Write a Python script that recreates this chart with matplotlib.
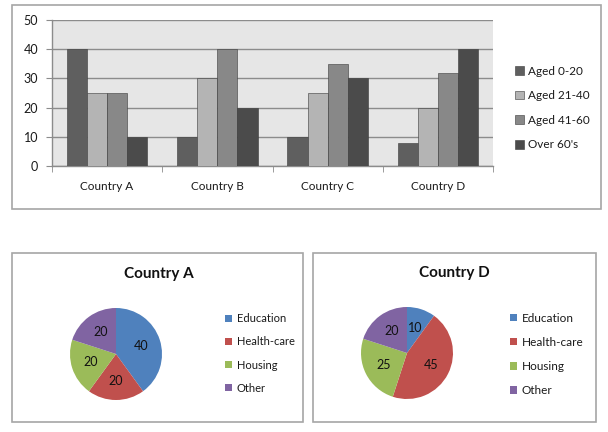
import matplotlib
matplotlib.use("Agg")
import matplotlib.pyplot as plt
from matplotlib.patches import Rectangle
import numpy as np

plt.rcParams['font.family'] = ['Lato', 'DejaVu Sans']

countries = ["Country A", "Country B", "Country C", "Country D"]
age_groups = ["Aged 0-20", "Aged 21-40", "Aged 41-60", "Over 60's"]
aged_0_20 = [40, 10, 10, 8]
aged_21_40 = [25, 30, 25, 20]
aged_41_60 = [25, 40, 35, 32]
over_60 = [10, 20, 30, 40]
bar_colors = ["#5f5f5f", "#b4b4b4", "#888888", "#4b4b4b"]

spend_cats = ["Education", "Health-care", "Housing", "Other"]
pie_a = [40, 20, 20, 20]
pie_d = [10, 45, 25, 20]
pie_colors = ["#4f81bd", "#c0504d", "#9bbb59", "#8064a2"]

W, H = 608, 432
fig = plt.figure(figsize=(W / 100, H / 100), dpi=100)


def fx(px):
    return px / W


def fy(py):
    return 1 - py / H


def frame(x0, y0, x1, y1):
    fig.patches.append(Rectangle((fx(x0), fy(y1)), fx(x1 - x0), (y1 - y0) / H,
                                 transform=fig.transFigure, fill=False,
                                 edgecolor="#a6a6a6", linewidth=1.2))


frame(12, 5, 601, 209)
frame(12, 253, 303, 422)
frame(313, 253, 596, 422)

# ---- Bar chart ----
ax = fig.add_axes([fx(52), fy(166), fx(493 - 52), (166 - 20) / H])
ax.set_facecolor("#e6e6e6")
x = np.arange(len(countries))
bw = 0.182
series = [aged_0_20, aged_21_40, aged_41_60, over_60]
offsets = [-1.5, -0.5, 0.5, 1.5]
handles = []
for s, off, c, lab in zip(series, offsets, bar_colors, age_groups):
    h = ax.bar(x + off * bw, s, width=bw, color=c, edgecolor="#3a3a3a",
               linewidth=0.4, label=lab, zorder=3)
    handles.append(h)
ax.set_xlim(-0.5, 3.5)
ax.set_ylim(0, 50)
ax.set_yticks([0, 10, 20, 30, 40, 50])
ax.yaxis.grid(True, color="#8c8c8c", linewidth=1.0, zorder=1)
ax.set_axisbelow(True)
ax.set_xticks(x)
ax.set_xticklabels(countries)
ax.set_xticks(np.arange(-0.5, 4.0, 1.0), minor=True)
ax.tick_params(axis='x', which='major', length=0, pad=11, labelsize=8.5,
               colors="#1a1a1a")
ax.tick_params(axis='x', which='minor', length=4, color="#8c8c8c", direction='out')
ax.tick_params(axis='y', length=4, color="#8c8c8c", pad=6, labelsize=9,
               colors="#1a1a1a")
for sp in ["top", "right"]:
    ax.spines[sp].set_visible(False)
for sp in ["left", "bottom"]:
    ax.spines[sp].set_color("#8c8c8c")
    ax.spines[sp].set_linewidth(1.0)

fig.legend(handles=handles, labels=age_groups, loc="center left",
           bbox_to_anchor=(fx(510), fy(108)), frameon=False, fontsize=8.5,
           handlelength=0.75, handleheight=0.75, handletextpad=0.4,
           labelspacing=1.15, borderaxespad=0, labelcolor="#1a1a1a")


# ---- Pie charts ----
def pie(cx, cy, r, vals, title, tx, ty, lx, ly, lspacing, lfs):
    pax = fig.add_axes([fx(cx - r), fy(cy + r), fx(2 * r), 2 * r / H])
    wedges, texts = pax.pie(vals, colors=pie_colors, startangle=90,
                            counterclock=False, labels=[str(v) for v in vals],
                            labeldistance=0.58, radius=1.0,
                            textprops=dict(fontsize=9, color="#111111",
                                           ha="center", va="center"))
    pax.set_xlim(-1, 1)
    pax.set_ylim(-1, 1)
    pax.set_aspect("equal")
    fig.text(fx(tx), fy(ty), title, ha="center", va="center",
             fontsize=11, fontweight="bold", color="#111111")
    fig.legend(handles=wedges, labels=spend_cats, loc="center left",
               bbox_to_anchor=(fx(lx), fy(ly)), frameon=False, fontsize=lfs,
               handlelength=0.6, handleheight=0.6, handletextpad=0.4,
               labelspacing=lspacing, borderaxespad=0, labelcolor="#1a1a1a")


pie(116, 354, 46, pie_a, "Country A", 159, 274, 221, 353.5, 1.1, 8)
pie(407, 353, 46, pie_d, "Country D", 454, 273, 505, 354.5, 1.12, 8.5)

fig.savefig("out.png", dpi=100)
